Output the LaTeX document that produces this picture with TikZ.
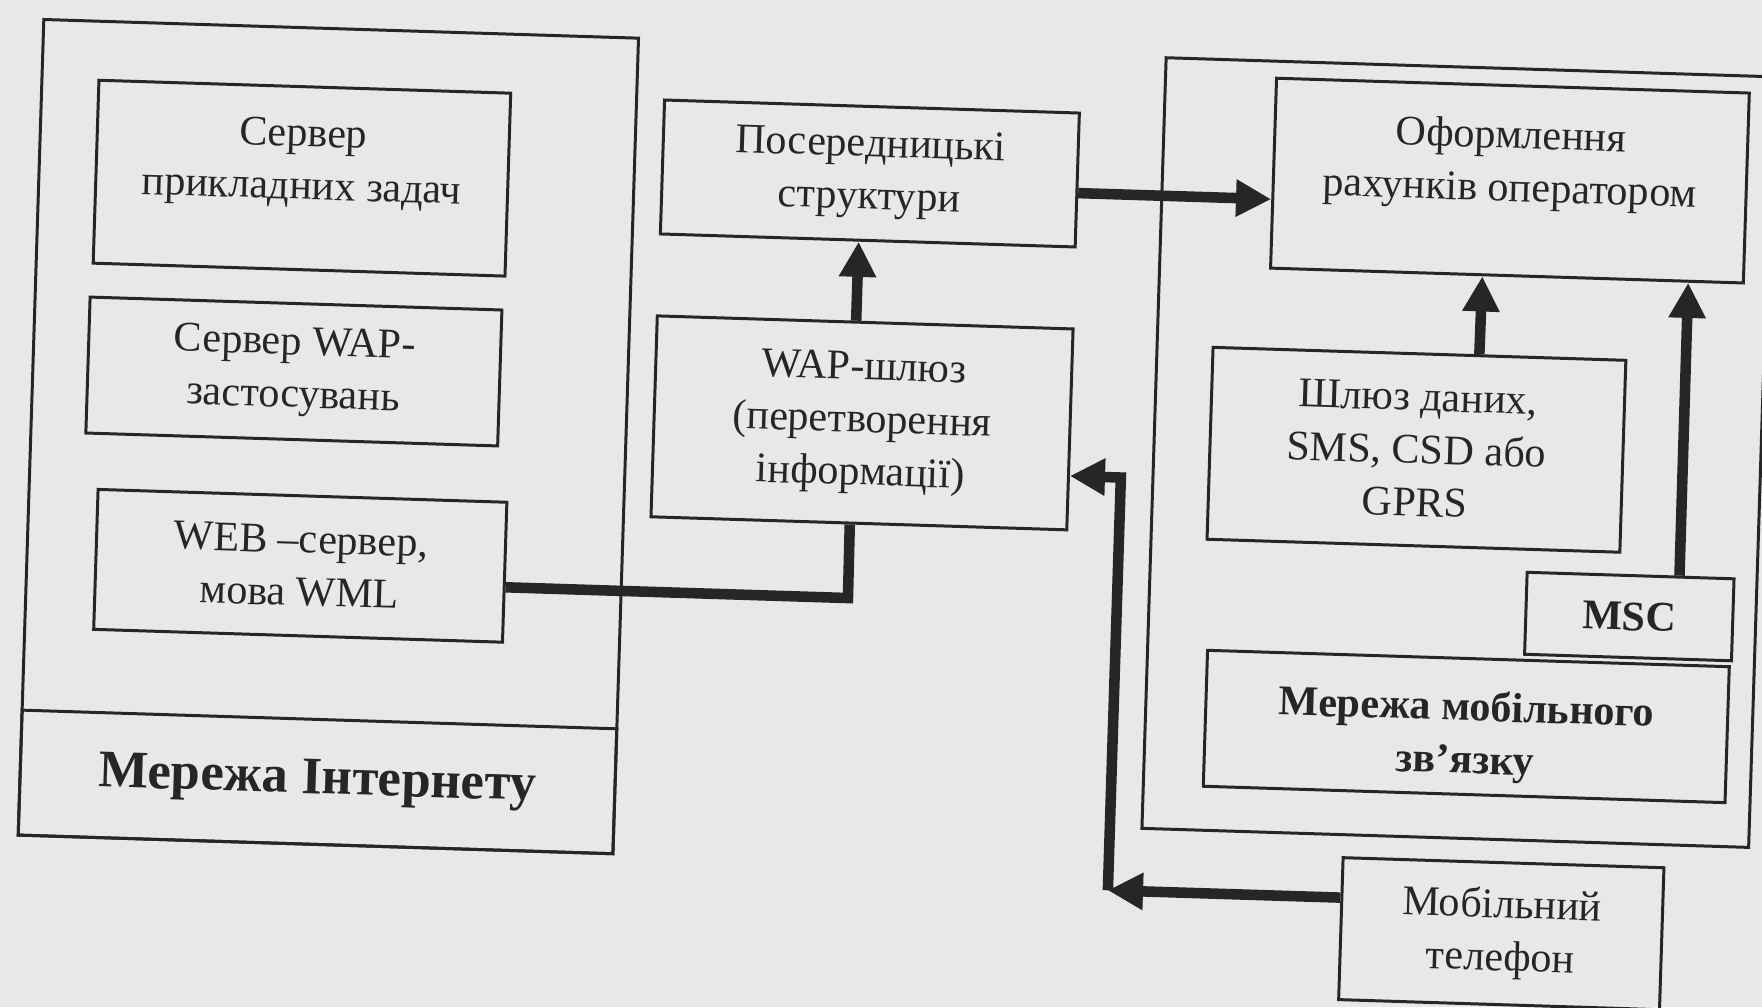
\documentclass[tikz,border=0pt]{standalone}
\usepackage{fontspec}
\setmainfont{Liberation Serif}
\usetikzlibrary{arrows.meta}
\definecolor{paper}{gray}{0.91}
\definecolor{ink}{gray}{0.15}
\begin{document}
\begin{tikzpicture}[main node/.style={draw=ink, line width=0.85pt, align=center, inner sep=0pt, text=ink},
    link/.style={draw=ink, line width=3pt},
    arr/.style={link, -{Triangle[length=10pt,width=10pt]}}]
            \tikzstyle{every node}=[font=\fontsize{12}{15}\selectfont]
            \tikzstyle{every label}=[align=center, text=ink]
            \fill[paper] (0,0) rectangle (17.62,10.07);
            \useasboundingbox (0,0) rectangle (17.62,10.07);
            \clip (0,0) rectangle (17.62,10.07);

            \begin{scope}[rotate around={-1.8:(8.81,5.035)}, transform shape]
              \node[main node, minimum width=5.95cm, minimum height=8.16cm] (inet) at (3.265,5.53) {};
              \node[main node, minimum width=5.95cm, minimum height=1.25cm, font=\fontsize{15}{18}\selectfont\bfseries] (inetlbl) at (3.265,2.075) {Мережа Інтернету};
              \node[main node, minimum width=4.12cm, minimum height=1.83cm, label={[yshift=1.5mm]center:{Сервер\\прикладних задач}}] (apps) at (2.92,8.105) {};
              \node[main node, minimum width=4.12cm, minimum height=1.36cm] (wapsrv) at (2.90,6.17) {Сервер WAP-\\застосувань};
              \node[main node, minimum width=4.09cm, minimum height=1.40cm] (web) at (3.025,4.23) {WEB –сервер,\\мова WML};

              \node[main node, minimum width=4.15cm, minimum height=1.34cm] (proxy) at (8.595,8.33) {Посередницькі\\структури};
              \node[main node, minimum width=4.16cm, minimum height=2.01cm] (wap) at (8.595,5.835) {WAP-шлюз\\(перетворення\\інформації)};

              \node[main node, minimum width=6.07cm, minimum height=7.71cm] (mnet) at (14.555,5.725) {};
              \node[main node, minimum width=4.73cm, minimum height=1.90cm, label={[yshift=1.6mm]center:{Оформлення\\рахунків оператором}}] (bill) at (14.995,8.46) {};
              \node[main node, minimum width=4.13cm, minimum height=1.92cm] (gate) at (14.145,5.74) {Шлюз даних,\\SMS, CSD або\\GPRS};
              \node[main node, minimum width=2.07cm, minimum height=0.82cm, font=\fontsize{12}{15}\selectfont\bfseries] (msc) at (16.325,4.14) {MSC};
              \node[main node, minimum width=5.22cm, minimum height=1.36cm, label={[yshift=-1mm, font=\fontsize{12}{15}\selectfont\bfseries]center:{Мережа мобільного\\зв’язку}}] (mobnet) at (14.73,2.99) {};
              \node[main node, minimum width=3.21cm, minimum height=1.42cm] (phone) at (15.145,0.93) {Мобільний\\телефон};

              \coordinate (bend) at (8.51,4.08);
              \coordinate (turn) at (11.2,1.24);
              \coordinate (rise) at (11.2,5.37);

              \draw[arr] ([xshift=-0.9mm]wap.north) -- ([xshift=-0.9mm]proxy.south);
              \draw[link] ([yshift=-1.5mm]web.east) -- (bend) -- ([xshift=-0.9mm]wap.south);
              \draw[arr] ([yshift=-1.3mm]proxy.east) -- ([yshift=-2.6mm]bill.west);
              \draw[arr] ([xshift=6mm]gate.north) -- ([xshift=-2.45mm]bill.south);
              \draw[arr] ([xshift=4.9mm]msc.north) -- ([xshift=18.15mm]bill.south);
              \draw[arr] ([yshift=3.1mm]phone.west) -- (turn);
              \draw[arr] (turn) -- (rise) -- ([yshift=-4.65mm]wap.east);
            \end{scope}
            \end{tikzpicture}
\end{document}
